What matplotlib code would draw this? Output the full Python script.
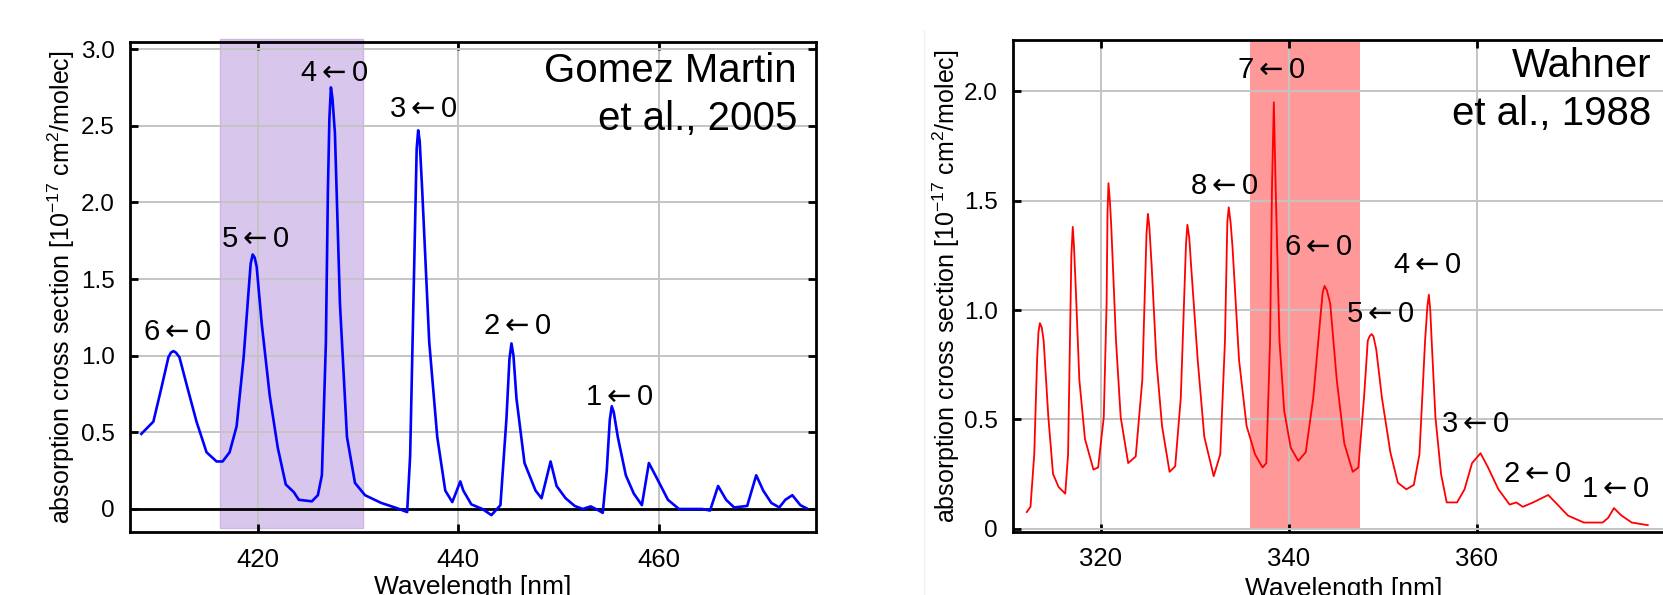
import matplotlib
matplotlib.use("Agg")
import matplotlib.pyplot as plt
from matplotlib.ticker import FuncFormatter
from matplotlib.lines import Line2D

plt.rcParams["font.family"] = ["Liberation Sans", "DejaVu Sans"]
plt.rcParams["mathtext.fontset"] = "dejavusans"

# Gomez Martin et al., 2005
gm_wl = [408.4, 409.6, 410.4, 411.1, 411.35, 411.6, 411.85, 412.2, 413.0, 413.9,
         414.9, 415.9, 416.5, 417.2, 417.9, 418.6, 419.1, 419.3, 419.5, 419.7,
         419.9, 420.4, 421.2, 422.0, 422.8, 423.6, 424.1, 425.4, 426.0, 426.4,
         426.8, 427.0, 427.15, 427.3, 427.45, 427.7, 428.2, 428.9, 429.7, 430.7,
         432.3, 433.9, 434.9, 435.2, 435.6, 435.85, 436.0, 436.15, 436.4, 437.1,
         437.9, 438.7, 439.4, 440.2, 440.5, 441.3, 442.4, 443.3, 444.2, 444.8,
         445.1, 445.3, 445.5, 445.8, 446.6, 447.7, 448.3, 449.2, 449.8, 450.7,
         451.6, 452.4, 453.2, 454.0, 454.4, 454.8, 455.1, 455.3, 455.5, 455.9,
         456.7, 457.5, 458.3, 459.0, 459.8, 460.9, 462.0, 464.3, 465.1, 465.9,
         466.7, 467.5, 468.8, 469.7, 470.4, 471.2, 472.0, 472.6, 473.3, 474.1,
         474.7]
gm_xs = [0.49, 0.57, 0.79, 0.99, 1.02, 1.03, 1.02, 0.99, 0.79, 0.57,
         0.37, 0.31, 0.31, 0.37, 0.54, 0.99, 1.43, 1.60, 1.66, 1.64,
         1.58, 1.21, 0.74, 0.40, 0.16, 0.11, 0.06, 0.05, 0.09, 0.22,
         1.09, 2.08, 2.55, 2.75, 2.68, 2.45, 1.34, 0.47, 0.17, 0.09,
         0.04, 0.005, -0.02, 0.35, 1.58, 2.35, 2.47, 2.40, 2.08, 1.09,
         0.47, 0.12, 0.045, 0.18, 0.12, 0.03, 0.0, -0.04, 0.025, 0.59,
         0.98, 1.08, 1.00, 0.72, 0.30, 0.12, 0.07, 0.31, 0.15, 0.07,
         0.02, 0.0, 0.017, -0.01, -0.025, 0.25, 0.58, 0.67, 0.63, 0.47,
         0.22, 0.10, 0.025, 0.30, 0.20, 0.06, 0.0, 0.0, -0.01, 0.15,
         0.06, 0.01, 0.02, 0.22, 0.12, 0.04, 0.01, 0.06, 0.09, 0.025,
         0.005]
gm_band = (416.2, 430.5)
gm_labels = ["6←0", "5←0", "4←0", "3←0", "2←0", "1←0"]
gm_label_x = [412.0, 419.8, 427.7, 436.5, 445.9, 456.1]
gm_label_y = [1.10, 1.71, 2.79, 2.56, 1.14, 0.68]

# Wahner et al., 1988
wa_wl = [312.1, 312.5, 312.9, 313.2, 313.35, 313.5, 313.7, 313.9, 314.4, 314.9,
         315.5, 316.2, 316.5, 316.7, 316.85, 317.0, 317.12, 317.3, 317.7, 318.3,
         319.2, 319.7, 320.3, 320.6, 320.7, 320.8, 320.95, 321.1, 321.6, 322.1,
         322.9, 323.7, 324.4, 324.85, 325.0, 325.15, 325.4, 325.9, 326.5, 327.3,
         327.9, 328.5, 329.05, 329.2, 329.4, 329.6, 330.3, 331.0, 332.0, 332.7,
         333.2, 333.45, 333.6, 333.8, 334.0, 334.7, 335.5, 336.4, 337.2, 337.6,
         338.0, 338.2, 338.4, 338.6, 339.0, 339.5, 340.2, 341.0, 341.8, 342.6,
         343.3, 343.6, 343.8, 344.05, 344.4, 345.1, 345.9, 346.8, 347.4, 348.0,
         348.4, 348.6, 348.8, 349.0, 349.3, 349.9, 350.8, 351.6, 352.5, 353.3,
         353.9, 354.5, 354.75, 354.9, 355.05, 355.2, 355.6, 356.2, 356.8, 357.9,
         358.7, 359.5, 360.4, 361.2, 362.3, 363.5, 364.2, 364.9, 366.0, 367.6,
         368.6, 369.7, 371.4, 373.4, 374.0, 374.6, 375.4, 376.5, 378.2]
wa_xs = [0.076, 0.10, 0.34, 0.77, 0.90, 0.94, 0.92, 0.86, 0.51, 0.25,
         0.19, 0.16, 0.34, 0.86, 1.25, 1.38, 1.30, 1.12, 0.68, 0.41,
         0.27, 0.28, 0.51, 1.03, 1.45, 1.58, 1.50, 1.38, 0.86, 0.51,
         0.30, 0.33, 0.68, 1.35, 1.44, 1.38, 1.20, 0.77, 0.47, 0.26,
         0.285, 0.60, 1.30, 1.39, 1.33, 1.20, 0.77, 0.42, 0.24, 0.34,
         0.86, 1.40, 1.47, 1.40, 1.29, 0.77, 0.47, 0.34, 0.28, 0.30,
         0.86, 1.55, 1.95, 1.55, 0.86, 0.54, 0.37, 0.31, 0.35, 0.60,
         0.94, 1.08, 1.11, 1.09, 1.03, 0.68, 0.39, 0.26, 0.28, 0.60,
         0.86, 0.88, 0.89, 0.88, 0.82, 0.60, 0.35, 0.21, 0.18, 0.20,
         0.34, 0.86, 1.02, 1.07, 1.00, 0.86, 0.51, 0.25, 0.12, 0.12,
         0.18, 0.30, 0.345, 0.28, 0.18, 0.11, 0.12, 0.10, 0.12, 0.154,
         0.11, 0.06, 0.028, 0.028, 0.05, 0.094, 0.06, 0.028, 0.016]
wa_band = (335.9, 347.6)
wa_labels = ["7←0", "8←0", "6←0", "4←0", "5←0", "3←0", "2←0", "1←0"]
wa_label_x = [338.1, 333.1, 343.2, 354.8, 349.7, 359.9, 366.5, 374.8]
wa_label_y = [2.06, 1.53, 1.25, 1.17, 0.945, 0.44, 0.213, 0.145]

W, H = 1663, 595
fig = plt.figure(figsize=(W / 100, H / 100), dpi=100)


def px_axes(left, right, top, bottom):
    return fig.add_axes([left / W, 1 - bottom / H, (right - left) / W, (bottom - top) / H])


def arrow_label(t):
    a, b = t.split("←")
    return r"$\mathregular{%s}{\leftarrow}\mathregular{%s}$" % (a, b)


ylab = r"absorption cross section [10$^{\mathregular{-17}}$ cm$^{\mathregular{2}}$/molec]"
fmt = FuncFormatter(lambda v, p: "0" if abs(v) < 1e-9 else f"{v:.1f}")


def style(ax, xticks, yticks):
    ax.set_xticks(xticks)
    ax.set_yticks(yticks)
    ax.yaxis.set_major_formatter(fmt)
    ax.tick_params(direction="in", length=6, width=2, top=True, right=True, color="black")
    ax.tick_params(axis="x", labelsize=18.5, pad=11)
    ax.tick_params(axis="y", labelsize=17.5, pad=11)
    for s in ax.spines.values():
        s.set_linewidth(2)
    ax.grid(True, color="#c4c4c4", lw=1.4)
    ax.set_ylabel(ylab, fontsize=18, va="center")
    ax.set_xlabel("Wavelength [nm]", fontsize=19, va="baseline")


# left panel
ax1 = px_axes(130, 816, 41.7, 532.3)
ax1.set_xlim(407.27, 475.66)
ax1.set_ylim(-0.152, 3.048)
ax1.axvspan(*gm_band, ymin=0.009, ymax=1.006, facecolor="#d9c6ec", edgecolor="#cdb6e6",
            lw=1, clip_on=False, zorder=0.5)
ax1.axhline(0, color="black", lw=2, zorder=1.8)
ax1.plot(gm_wl, gm_xs, color="#0000ff", lw=1.9, zorder=3)
style(ax1, [420, 440, 460], [0, 0.5, 1.0, 1.5, 2.0, 2.5, 3.0])
ax1.yaxis.set_label_coords(-0.1, 0.5)
ax1.xaxis.set_label_coords(0.5, -0.1258)
for t, x, y in zip(gm_labels, gm_label_x, gm_label_y):
    ax1.text(x, y, arrow_label(t), fontsize=21, ha="center", va="baseline", zorder=4)
for t, y in zip(["Gomez Martin", "et al., 2005"], [0.9185, 0.820]):
    ax1.text(0.9723, y, t, transform=ax1.transAxes, fontsize=29, ha="right", va="baseline", zorder=4)

# right panel (extends beyond the right edge of the figure)
ax2 = px_axes(1013.3, 1675, 40, 531.5)
ax2.set_xlim(310.67, 381.1)
ax2.set_ylim(-0.013, 2.235)
ax2.axvspan(*wa_band, ymin=0.008, ymax=0.995, facecolor="#ff9898", lw=0, zorder=0.5)
ax2.plot(wa_wl, wa_xs, color="#ff0000", lw=1.3, zorder=3)
style(ax2, [320, 340, 360], [0, 0.5, 1.0, 1.5, 2.0])
ax2.yaxis.set_label_coords(-0.101, 0.5)
ax2.xaxis.set_label_coords(0.5, -0.131)
for t, x, y in zip(wa_labels, wa_label_x, wa_label_y):
    ax2.text(x, y, arrow_label(t), fontsize=21, ha="center", va="baseline", zorder=4)
for t, y in zip(["Wahner", "et al., 1988"], [0.9253, 0.827]):
    ax2.text(0.9648, y, t, transform=ax2.transAxes, fontsize=29, ha="right", va="baseline", zorder=4)

# faint seam between the two pasted panels
fig.add_artist(Line2D([924 / W, 924 / W], [0.0, 0.95], color="#f0f0f0", lw=1))

fig.savefig("out.png", dpi=100, facecolor="white")
